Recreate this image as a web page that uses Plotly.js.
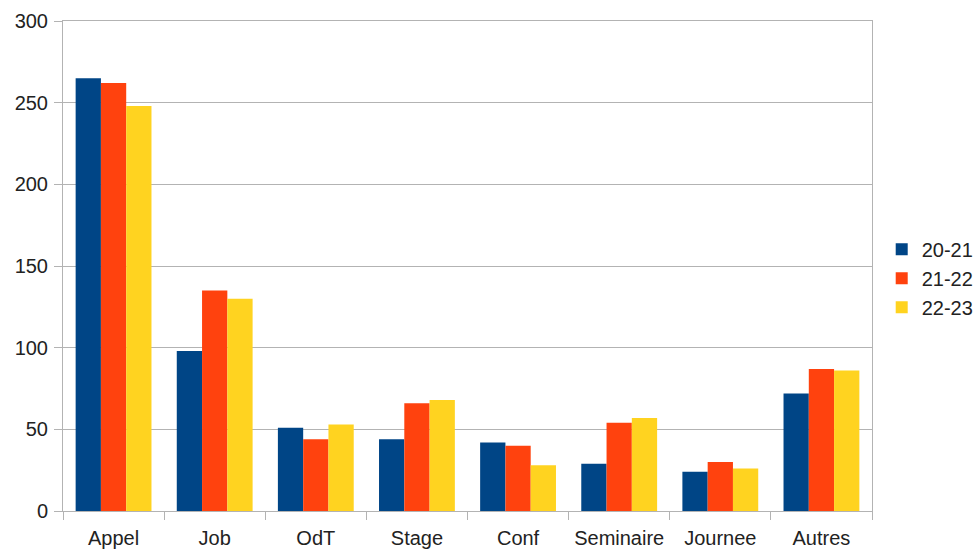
<!DOCTYPE html>
<html>
<head>
<meta charset="utf-8">
<script src="https://cdn.plot.ly/plotly-3.0.1.min.js"></script>
<style>html,body{margin:0;padding:0;background:#fff;}#chart{width:974px;height:550px;}</style>
</head>
<body>
<div id="chart"></div>
<script>
const categories = ["Appel", "Job", "OdT", "Stage", "Conf", "Seminaire", "Journee", "Autres"];
const seriesNames = ["20-21", "21-22", "22-23"];
const s2021 = [265, 98, 51, 44, 42, 29, 24, 72];
const s2122 = [262, 135, 44, 66, 40, 54, 30, 87];
const s2223 = [248, 130, 53, 68, 28, 57, 26, 86];
const yTicks = [0, 50, 100, 150, 200, 250, 300];
const colors = ["#004586", "#ff420e", "#ffd320"];

const values = [s2021, s2122, s2223];
const traces = values.map((v, i) => ({
  type: "bar",
  name: seriesNames[i],
  x: categories,
  y: v,
  marker: {color: colors[i], line: {width: 0}},
  hoverinfo: "x+y+name"
}));

const layout = {
  width: 974, height: 550,
  margin: {l: 63, r: 102, t: 21, b: 39, autoexpand: false},
  paper_bgcolor: "#ffffff", plot_bgcolor: "#ffffff",
  font: {family: "Liberation Sans, Arial, sans-serif", size: 20, color: "#222222"},
  barmode: "group",
  bargap: 0.25,
  bargroupgap: 0,
  showlegend: true,
  legend: {x: 1.012, xanchor: "left", y: 0.475, yanchor: "middle",
           font: {size: 20, color: "#222222"}, bgcolor: "rgba(0,0,0,0)", tracegroupgap: 0},
  xaxis: {
    type: "category",
    tickson: "boundaries",
    ticks: "outside", ticklen: 8, tickcolor: "#b3b3b3", tickwidth: 1,
    ticklabelstandoff: 9,
    showgrid: false,
    showline: true, linecolor: "#b3b3b3", linewidth: 1, mirror: true,
    tickfont: {size: 20, color: "#222222"},
    fixedrange: true
  },
  yaxis: {
    range: [0, 300],
    tickvals: yTicks,
    ticktext: yTicks.map(String),
    ticks: "outside", ticklen: 8, tickcolor: "#b3b3b3", tickwidth: 1,
    ticklabelstandoff: 2,
    showgrid: true, gridcolor: "#b3b3b3", gridwidth: 1,
    showline: true, linecolor: "#b3b3b3", linewidth: 1, mirror: true,
    zeroline: false,
    tickfont: {size: 20, color: "#222222"},
    fixedrange: true
  }
};

Plotly.newPlot("chart", traces, layout, {displayModeBar: false, staticPlot: true});
</script>
</body>
</html>
